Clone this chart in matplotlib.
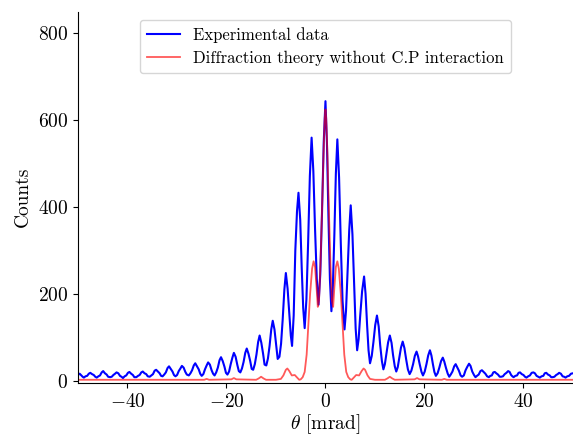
import matplotlib
matplotlib.use("Agg")
import matplotlib.pyplot as plt

# ---- 폰트 (LaTeX 느낌) ----
plt.rcParams['font.family'] = 'serif'
plt.rcParams['font.serif'] = ['cmr10']
plt.rcParams['mathtext.fontset'] = 'cm'
plt.rcParams['axes.formatter.use_mathtext'] = True

# ---- 데이터 ----
# 실험 데이터: theta [mrad], counts (한 줄 = 간섭 무늬 한 주기)
exp_theta = [
    -50.0, -49.65, -49.3, -49.05,
    -48.8, -48.47, -48.14, -47.8, -47.5, -47.15, -46.8, -46.5,
    -46.2, -45.87, -45.54, -45.2, -44.9, -44.55, -44.2, -43.9,
    -43.5, -43.17, -42.84, -42.5, -42.2, -41.85, -41.5, -41.2,
    -40.9, -40.57, -40.24, -39.9, -39.6, -39.25, -38.9, -38.6,
    -38.2, -37.87, -37.54, -37.2, -36.9, -36.55, -36.2, -35.9,
    -35.5, -35.17, -34.84, -34.5, -34.2, -33.85, -33.5, -33.2,
    -32.9, -32.57, -32.24, -31.9, -31.6, -31.25, -30.9, -30.6,
    -30.3, -29.97, -29.64, -29.3, -29.0, -28.65, -28.3, -28.0,
    -27.6, -27.27, -26.94, -26.6, -26.3, -25.95, -25.6, -25.3,
    -25.0, -24.67, -24.34, -24.0, -23.7, -23.35, -23.0, -22.7,
    -22.4, -22.07, -21.74, -21.4, -21.1, -20.75, -20.4, -20.1,
    -19.8, -19.47, -19.14, -18.8, -18.5, -18.15, -17.8, -17.5,
    -17.2, -16.87, -16.54, -16.2, -15.9, -15.55, -15.2, -14.9,
    -14.6, -14.27, -13.94, -13.6, -13.3, -12.95, -12.6, -12.3,
    -11.95, -11.62, -11.29, -10.95, -10.65, -10.3, -9.95, -9.65,
    -9.3, -8.97, -8.64, -8.3, -8.0, -7.65, -7.3, -7.0,
    -6.75, -6.42, -6.09, -5.75, -5.45, -5.1, -4.8, -4.5,
    -4.2, -3.85, -3.5, -3.15, -2.8, -2.45, -2.1, -1.75,
    -1.4, -1.05, -0.7, -0.35, 0.0,
    0.3, 0.6, 0.9,
    1.2, 1.5, 1.8, 2.1, 2.4, 2.75, 3.1, 3.45,
    3.85, 4.15, 4.45, 4.8, 5.1, 5.45, 5.8, 6.1,
    6.4, 6.7, 7.0, 7.4, 7.8, 8.1, 8.4, 8.7,
    9.0, 9.35, 9.7, 10.05, 10.4, 10.75, 11.05, 11.4,
    11.7, 12.0, 12.3, 12.65, 13.0, 13.35, 13.65, 14.0,
    14.3, 14.6, 14.9, 15.25, 15.6, 15.95, 16.3, 16.65,
    17.0, 17.35, 17.7, 18.05, 18.4, 18.7, 19.05, 19.4,
    19.7, 20.05, 20.4, 20.75, 21.1, 21.4, 21.7, 22.0,
    22.3, 22.65, 23.0, 23.35, 23.7, 24.0, 24.35, 24.7,
    25.0, 25.3, 25.65, 26.0, 26.3, 26.6, 26.95, 27.3,
    27.6, 27.95, 28.3, 28.65, 29.0, 29.3, 29.65, 30.0,
    30.3, 30.6, 30.95, 31.3, 31.6, 31.95, 32.3, 32.65,
    33.0, 33.3, 33.6, 33.9, 34.2, 34.5, 34.85, 35.2,
    35.5, 35.85, 36.2, 36.55, 36.9, 37.2, 37.5, 37.75,
    38.0, 38.35, 38.7, 39.0, 39.3, 39.65, 40.0, 40.3,
    40.6, 40.95, 41.3, 41.65, 42.0, 42.3, 42.65, 43.0,
    43.3, 43.65, 44.0, 44.3, 44.6, 44.95, 45.3, 45.6,
    45.9, 46.25, 46.6, 46.9, 47.2, 47.55, 47.9, 48.2,
    48.5, 48.85, 49.2, 49.6, 50.0,
]
exp_counts = [
    13, 16, 12, 9,
    7, 10, 11, 16, 18, 15, 13, 9,
    7, 10, 12, 19, 22, 17, 14, 9,
    8, 9, 13, 16, 19, 17, 11, 9,
    6, 10, 12, 18, 20, 16, 13, 8,
    8, 11, 13, 19, 21, 17, 15, 10,
    9, 12, 15, 23, 25, 21, 17, 11,
    10, 14, 19, 29, 33, 27, 21, 13,
    10, 13, 22, 28, 34, 30, 20, 14,
    12, 17, 24, 35, 40, 33, 26, 16,
    11, 15, 26, 35, 42, 37, 24, 16,
    12, 19, 30, 47, 54, 45, 32, 18,
    14, 21, 38, 53, 64, 55, 36, 22,
    19, 28, 43, 64, 74, 62, 45, 27,
    25, 38, 60, 89, 104, 87, 62, 37,
    35, 51, 80, 118, 138, 118, 82, 50,
    55, 85, 141, 210, 248, 212, 155, 104,
    80, 150, 300, 390, 433, 371, 261, 168,
    121, 187, 319, 472, 560, 483, 348, 233,
    175, 245, 386, 550, 644,
    547, 378, 233,
    160, 219, 338, 477, 556, 468, 315, 184,
    118, 161, 247, 347, 404, 337, 220, 120,
    70, 96, 147, 206, 240, 200, 130, 70,
    40, 57, 90, 128, 150, 125, 82, 45,
    26, 38, 61, 88, 104, 87, 59, 33,
    21, 31, 52, 76, 90, 75, 49, 26,
    15, 23, 38, 57, 67, 56, 37, 20,
    12, 21, 38, 58, 70, 58, 38, 20,
    11, 17, 30, 45, 53, 44, 29, 16,
    9, 14, 21, 33, 38, 31, 23, 12,
    9, 12, 24, 32, 39, 34, 21, 13,
    8, 11, 14, 22, 24, 20, 16, 10,
    8, 11, 12, 19, 20, 17, 14, 9,
    9, 10, 15, 18, 22, 20, 13, 10,
    8, 11, 12, 18, 19, 15, 13, 9,
    7, 10, 12, 18, 19, 17, 11, 9,
    7, 10, 11, 17, 18, 14, 12, 8,
    8, 9, 13, 15, 18, 16, 10, 9,
    7, 10, 11, 16, 17,
]

# 이론 곡선 (C.P 상호작용 없음)
theory_theta = [
    -50.0, -30.0, -24.5, -24.0, -23.5, -19.0, -18.5, -18.0, -14.0, -13.5,
    -13.0, -12.5, -12.0, -10.0, -9.0, -8.5, -8.0, -7.7, -7.3, -6.8,
    -6.2, -5.8, -5.3, -5.0, -4.6, -4.2, -3.8, -3.5, -3.1, -2.7,
    -2.4, -2.1, -1.8, -1.55, -1.3, -1.0, -0.7, -0.4, -0.15, 0.0,
    0.15, 0.4, 0.7, 1.0, 1.3, 1.55, 1.8, 2.1, 2.4, 2.7,
    3.1, 3.5, 3.8, 4.2, 4.6, 5.0, 5.3, 5.8, 6.2, 6.8,
    7.3, 7.7, 8.0, 8.5, 9.0, 10.0, 12.0, 12.5, 13.0, 13.5,
    14.0, 18.0, 18.5, 19.0, 23.5, 24.0, 24.5, 30.0, 50.0,
]
theory_counts = [
    2, 2, 2, 4, 2, 3, 6, 3, 2, 5,
    9, 5, 2, 2, 4, 12, 25, 28, 22, 12,
    13, 8, 2, 3, 8, 20, 60, 120, 200, 258,
    275, 262, 215, 170, 185, 270, 390, 520, 605, 625,
    605, 520, 390, 270, 185, 170, 215, 262, 275, 258,
    200, 120, 60, 20, 8, 3, 2, 8, 13, 12,
    22, 28, 25, 12, 4, 2, 2, 5, 9, 5,
    2, 3, 6, 3, 2, 4, 2, 2, 2,
]

fig = plt.figure(figsize=(5.73, 4.37), dpi=100)
ax = fig.add_axes([0.136, 0.124, 0.864, 0.849])

ax.plot(exp_theta, exp_counts, color='blue', linewidth=1.5, label='Experimental data')
ax.plot(theory_theta, theory_counts, color='red', alpha=0.65, linewidth=1.3,
        label='Diffraction theory without C.P interaction')

ax.set_xlim(-50, 50)
ax.set_ylim(-5, 850)
ax.set_xticks([-40, -20, 0, 20, 40])
ax.set_yticks([0, 200, 400, 600, 800])
ax.tick_params(labelsize=14)
ax.set_xlabel(r'$\theta$ [mrad]', fontsize=14, labelpad=1.5)
ax.set_ylabel('Counts', fontsize=14)
ax.spines['top'].set_visible(False)
ax.spines['right'].set_visible(False)
ax.legend(loc='upper center', fontsize=12)

fig.savefig('out.png', dpi=100)
